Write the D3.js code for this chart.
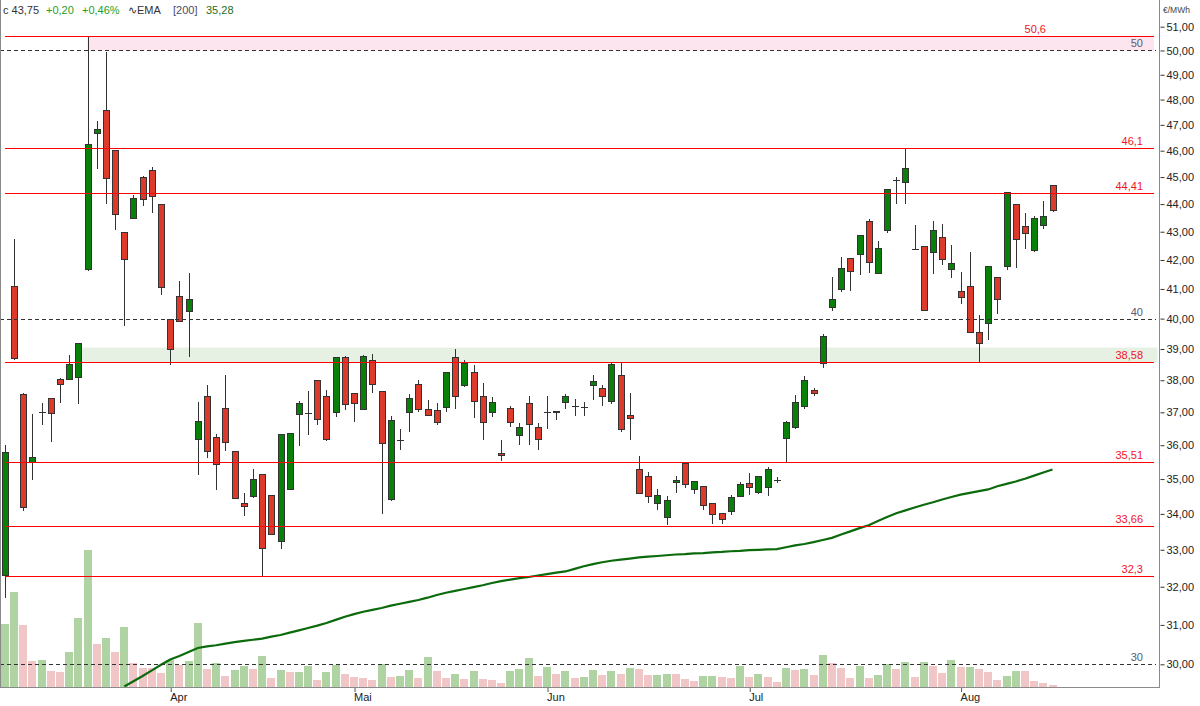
<!DOCTYPE html>
<html>
<head>
<meta charset="utf-8">
<script src="https://cdn.jsdelivr.net/npm/d3@7"></script>
<style>
  body { margin: 0; background: #fff; }
  svg { display: block; font-family: "Liberation Sans", Arial, sans-serif; }
</style>
</head>
<body>
<div id="chart"></div>
<script>
// daily candles, index 0 = first visible session (early March)
var openP  = [32.29,41.09,37.56,35.50,37.00,37.42,38.03,38.02,38.08,41.67,46.65,47.57,46.00,42.97,43.49,44.99,45.25,43.99,39.98,40.74,
              40.25,36.17,37.50,36.24,37.12,35.81,34.30,34.50,35.14,34.53,33.24,34.70,36.94,36.99,38.00,37.50,37.00,38.74,37.59,37.09,
              38.64,37.65,34.42,36.17,37.00,37.87,37.09,37.06,37.15,38.74,37.85,38.25,37.50,37.00,35.75,37.12,36.30,37.28,36.54,37.00,
              37.04,37.31,37.19,37.15,37.84,37.75,37.34,38.16,36.91,35.29,35.08,34.30,33.90,34.91,35.46,34.70,34.79,34.30,34.02,34.07,
              34.50,34.88,34.62,34.76,34.96,36.21,36.54,37.19,37.68,38.54,40.37,40.99,42.06,42.20,43.37,41.54,43.05,44.88,44.81,42.40,
              42.48,42.27,42.80,41.68,40.92,41.09,39.54,39.83,41.40,41.78,43.99,43.20,42.34,43.23,44.68];
var highP  = [36.01,42.74,37.60,36.95,37.30,37.45,38.07,38.80,39.20,50.60,47.15,49.93,46.02,43.00,44.32,45.04,45.38,44.00,40.00,41.26,
              41.55,37.32,37.86,36.34,38.17,35.82,34.60,35.29,35.15,34.55,36.35,36.38,37.35,37.66,38.02,37.68,38.75,38.76,37.60,38.80,
              38.84,37.66,36.88,36.49,37.57,38.01,37.38,37.29,38.26,39.00,38.63,38.48,37.90,37.47,36.17,37.19,36.68,37.50,36.68,37.50,
              37.05,37.56,37.40,37.31,38.16,37.84,38.54,38.56,37.59,35.69,35.20,34.70,34.50,35.08,35.48,34.95,34.80,34.31,34.03,34.53,
              34.91,35.17,35.09,35.35,35.05,36.72,37.53,38.13,37.75,39.50,41.41,42.10,42.07,42.88,43.44,42.66,44.55,45.00,46.06,43.23,
              42.50,43.40,43.26,42.52,41.57,42.27,40.11,41.80,41.42,44.43,44.00,43.69,43.55,44.11,44.70];
var lowP   = [31.69,38.65,34.09,34.96,36.60,36.10,37.28,38.00,37.26,41.60,45.30,43.99,43.07,39.75,43.45,43.94,43.69,40.79,38.50,39.90,
              38.75,35.13,35.63,34.69,35.83,34.44,33.95,34.46,32.30,33.40,33.03,34.68,35.98,36.32,36.60,36.13,36.86,37.08,36.70,37.08,
              37.61,33.99,34.36,35.86,36.41,37.00,36.90,36.61,37.00,37.09,37.78,36.81,36.17,36.85,35.52,36.54,36.00,36.00,35.87,36.48,
              36.75,37.09,36.88,36.90,37.37,37.19,37.25,36.39,36.17,34.56,34.30,34.12,33.68,34.59,34.73,34.56,34.12,33.72,33.72,33.97,
              34.48,34.53,34.56,34.50,34.88,35.51,36.50,37.09,37.50,38.40,40.26,40.91,40.94,41.49,41.56,41.52,42.95,43.99,43.99,42.38,
              40.25,41.50,41.81,41.37,40.49,39.52,38.58,39.31,40.14,41.65,41.71,42.38,42.27,43.09,43.72];
var closeP = [35.78,38.70,34.18,35.64,37.00,36.97,37.87,38.50,39.18,46.24,46.82,44.95,43.62,42.01,44.20,44.18,44.28,41.06,39.00,39.92,
              40.64,36.72,35.81,35.43,36.09,34.45,34.22,35.00,33.04,33.43,36.33,36.36,37.28,36.99,36.77,36.17,38.74,37.25,37.28,38.77,
              37.87,36.05,36.76,36.17,37.44,37.09,36.91,36.68,38.25,37.50,38.54,37.34,36.68,37.31,35.69,36.68,36.54,36.62,36.17,37.00,
              37.00,37.50,37.19,37.15,37.97,37.50,38.51,36.48,36.81,34.59,34.50,34.53,34.38,34.97,34.85,34.94,34.25,33.99,33.85,34.47,
              34.85,34.76,35.08,35.29,34.96,36.70,37.31,38.00,37.58,39.42,40.64,41.71,41.60,42.87,41.92,42.41,44.53,44.88,45.33,42.40,
              40.27,43.05,42.02,41.89,40.72,39.54,39.19,41.78,40.64,44.41,42.73,42.95,43.48,43.55,43.75];

// volume in chart units, and colour of each volume bar (g = green, r = red)
var volume = [188,284,185,77,80,47,44,104,206,410,128,146,104,179,71,56,56,41,80,65,
              77,191,53,71,32,50,62,53,92,26,50,44,44,62,20,44,65,38,29,26,
              20,68,29,32,50,26,89,47,26,38,23,47,23,20,11,47,53,86,32,59,
              38,47,26,29,50,35,47,38,56,53,35,35,38,38,23,17,32,32,29,26,
              62,29,38,29,14,56,50,53,35,95,71,56,26,62,26,35,68,53,74,29,
              74,62,41,80,59,59,53,44,20,32,47,47,17,11,5];
var volumeDir = ("ggrrgrrgggrgrgrrrrgrggrgrggrgrgrggrggrrrrgrggrgrrgrgrrrgggrgrgr" +
                 "ggrgrgrrggrrrggrrgrgrrgrgrgrrrgrggrgrgrrgrgrrrggrrrr").split("");

// EMA 200, starts at index 13 (earlier part below the visible range)
var emaStart = 13;
var ema = [29.45,29.58,29.71,29.85,29.99,30.12,30.21,30.31,30.41,30.45,30.48,30.52,30.56,30.59,30.62,30.65,30.70,
           30.74,30.80,30.86,30.92,30.98,31.05,31.13,31.21,31.28,31.34,31.39,31.44,31.50,31.55,31.60,31.65,31.71,
           31.78,31.84,31.89,31.94,31.99,32.04,32.10,32.15,32.19,32.23,32.26,32.30,32.34,32.38,32.41,32.48,32.55,
           32.61,32.66,32.70,32.73,32.76,32.79,32.81,32.83,32.85,32.87,32.88,32.90,32.91,32.93,32.94,32.96,32.97,
           32.99,33.00,33.01,33.02,33.07,33.12,33.16,33.21,33.27,33.33,33.42,33.51,33.60,33.68,33.80,33.91,34.02,
           34.10,34.18,34.26,34.33,34.41,34.48,34.55,34.60,34.65,34.70,34.79,34.86,34.93,35.01,35.10,35.19,35.28];

var monthLabels = ["Apr", "Mai", "Jun", "Jul", "Aug"];
var monthIndex = [18, 38, 59, 81, 104];

var yTicks = [30,31,32,33,34,35,36,37,38,39,40,41,42,43,44,45,46,47,48,49,50,51];

// horizontal levels
var redLevels = [50.6, 46.1, 44.41, 38.58, 35.51, 33.66, 32.3];
var redLabels = ["50,6", "46,1", "44,41", "38,58", "35,51", "33,66", "32,3"];
var dashLevels = [50, 40, 30];
var dashLabels = ["50", "40", "30"];
var zoneLow = [50, 38.58];
var zoneHigh = [50.6, 39.05];
var zoneStart = [9, 8];
var zoneColor = ["#fde5ef", "#e6f1e4"];

var width = 1200, height = 706;
var plotRight = 1159, plotBottom = 687;

var svg = d3.select("#chart").append("svg")
  .attr("width", width)
  .attr("height", height);

svg.append("defs").append("clipPath").attr("id", "plotClip")
  .append("rect").attr("x", 1).attr("y", 0)
  .attr("width", plotRight - 1).attr("height", plotBottom);

var x = d3.scaleLinear().domain([0, 114]).range([4.8, 1052.5]);
var y = d3.scaleLog().domain([30, 51]).range([664.3, 26.7]);
var vy = d3.scaleLinear().domain([0, 450]).range([plotBottom, plotBottom - 150]);

var plot = svg.append("g").attr("clip-path", "url(#plotClip)");
var idx = d3.range(openP.length);

// zones
plot.selectAll("rect.zone")
  .data(zoneLow)
  .enter().append("rect")
  .attr("class", "zone")
  .attr("x", (d, i) => x(zoneStart[i]) + (i === 1 ? 3.5 : 0))
  .attr("y", (d, i) => y(zoneHigh[i]))
  .attr("width", (d, i) => 1154 - x(zoneStart[i]))
  .attr("height", (d, i) => y(zoneLow[i]) - y(zoneHigh[i]))
  .attr("fill", (d, i) => zoneColor[i]);

// volume
plot.selectAll("rect.vol")
  .data(idx)
  .enter().append("rect")
  .attr("class", "vol")
  .attr("x", i => Math.round(x(i)) - 4)
  .attr("y", i => vy(volume[i]))
  .attr("width", 8)
  .attr("height", i => plotBottom - vy(volume[i]))
  .attr("fill", i => volumeDir[i] === "g" ? "#afd3a2" : "#f0c6c6")
  .attr("shape-rendering", "crispEdges");

// EMA
var emaLine = d3.line()
  .x((d, i) => x(i + emaStart))
  .y(d => y(d));
plot.append("path")
  .datum(ema)
  .attr("d", emaLine)
  .attr("fill", "none")
  .attr("stroke", "#0b6a0b")
  .attr("stroke-width", 2.2);

// candles
var candle = plot.selectAll("g.candle")
  .data(idx)
  .enter().append("g")
  .attr("class", "candle")
  .attr("shape-rendering", "crispEdges");

candle.append("line")
  .attr("x1", i => Math.round(x(i)) + 0.5)
  .attr("x2", i => Math.round(x(i)) + 0.5)
  .attr("y1", i => y(highP[i]))
  .attr("y2", i => y(lowP[i]))
  .attr("stroke", "#333")
  .attr("stroke-width", 1);

candle.append("rect")
  .attr("x", i => Math.round(x(i)) - 2.5)
  .attr("y", i => openP[i] === closeP[i] ? Math.round(y(closeP[i])) : y(Math.max(openP[i], closeP[i])))
  .attr("width", i => openP[i] === closeP[i] ? 7 : 6)
  .attr("height", i => openP[i] === closeP[i] ? 1 :
        Math.max(1, y(Math.min(openP[i], closeP[i])) - y(Math.max(openP[i], closeP[i]))))
  .attr("transform", i => openP[i] === closeP[i] ? "translate(-0.5,0)" : null)
  .attr("fill", i => openP[i] === closeP[i] ? "#333" : (closeP[i] > openP[i] ? "#08800a" : "#dc3a2b"))
  .attr("stroke", i => openP[i] === closeP[i] ? "none" : "#333")
  .attr("stroke-width", 1);

// red levels
plot.selectAll("line.red")
  .data(redLevels)
  .enter().append("line")
  .attr("x1", 5).attr("x2", 1154)
  .attr("y1", d => Math.round(y(d)) + 0.5)
  .attr("y2", d => Math.round(y(d)) + 0.5)
  .attr("stroke", "#ff0000")
  .attr("stroke-width", 1.2);

svg.selectAll("text.red")
  .data(redLevels)
  .enter().append("text")
  .attr("x", (d, i) => i === 0 ? 1046 : 1143)
  .attr("y", d => y(d) - 3)
  .attr("text-anchor", "end")
  .attr("font-size", 11)
  .attr("fill", "#f0141e")
  .text((d, i) => redLabels[i]);

// dashed levels
plot.selectAll("line.dash")
  .data(dashLevels)
  .enter().append("line")
  .attr("x1", 0).attr("x2", 1156)
  .attr("y1", d => Math.round(y(d)) + 0.5)
  .attr("y2", d => Math.round(y(d)) + 0.5)
  .attr("stroke", "#333")
  .attr("stroke-dasharray", "4,3")
  .attr("stroke-width", 1);

svg.selectAll("text.dash")
  .data(dashLevels)
  .enter().append("text")
  .attr("x", 1143)
  .attr("y", d => y(d) - 3)
  .attr("text-anchor", "end")
  .attr("font-size", 11)
  .attr("fill", "#5a5a6e")
  .text((d, i) => dashLabels[i]);

// frame
var frame = svg.append("g").attr("stroke", "#8a8a8a").attr("shape-rendering", "crispEdges");
frame.append("line").attr("x1", 0.5).attr("x2", 0.5).attr("y1", 0).attr("y2", plotBottom);
frame.append("line").attr("x1", plotRight + 0.5).attr("x2", plotRight + 0.5).attr("y1", 0).attr("y2", plotBottom + 0.5);
frame.append("line").attr("x1", 0).attr("x2", plotRight + 0.5).attr("y1", plotBottom + 0.5).attr("y2", plotBottom + 0.5);

// price axis
var yAxis = d3.axisRight(y)
  .tickValues(yTicks)
  .tickSize(4)
  .tickSizeOuter(0)
  .tickPadding(2)
  .tickFormat(d => d3.format(".2f")(d).replace(".", ","));
var yg = svg.append("g")
  .attr("transform", `translate(${plotRight + 1.5}, 0)`)
  .call(yAxis);
yg.select(".domain").remove();
yg.selectAll("line").attr("stroke", "#333");
yg.selectAll("text").attr("font-size", 11).attr("fill", "#222")
  .attr("font-family", "\"Liberation Sans\", Arial, sans-serif");

svg.append("text")
  .attr("x", 1163).attr("y", 13)
  .attr("font-size", 8.5)
  .attr("fill", "#444")
  .text("€/MWh");

// month axis
var xAxis = d3.axisBottom(x)
  .tickValues(monthIndex)
  .tickSize(4)
  .tickSizeOuter(0)
  .tickPadding(1)
  .tickFormat((d, i) => monthLabels[i]);
var xg = svg.append("g")
  .attr("transform", `translate(0.5, ${plotBottom + 1})`)
  .call(xAxis);
xg.select(".domain").remove();
xg.selectAll("line").attr("stroke", "#555");
xg.selectAll("text").attr("text-anchor", "start").attr("x", -1)
  .attr("font-size", 11).attr("fill", "#222")
  .attr("font-family", "\"Liberation Sans\", Arial, sans-serif");

// header
var last = closeP[closeP.length - 1];
var prev = closeP[closeP.length - 2];
var fmt2 = v => d3.format(".2f")(v).replace(".", ",");
var chg = last - prev;
var header = svg.append("g").attr("font-size", 11);
header.append("text").attr("x", 3).attr("y", 14).attr("fill", "#333").text("c " + fmt2(last));
header.append("text").attr("x", 46).attr("y", 14).attr("fill", "#25a025")
  .text((chg >= 0 ? "+" : "") + fmt2(chg));
header.append("text").attr("x", 82).attr("y", 14).attr("fill", "#25a025")
  .text((chg >= 0 ? "+" : "") + fmt2(chg / prev * 100) + "%");
header.append("text").attr("x", 128).attr("y", 14).attr("fill", "#333").text("∿EMA");
header.append("text").attr("x", 173).attr("y", 14).attr("fill", "#4a4a66").text("[200]");
header.append("text").attr("x", 206).attr("y", 14).attr("fill", "#1d6e1d").text(fmt2(ema[ema.length - 1]));
</script>
</body>
</html>
